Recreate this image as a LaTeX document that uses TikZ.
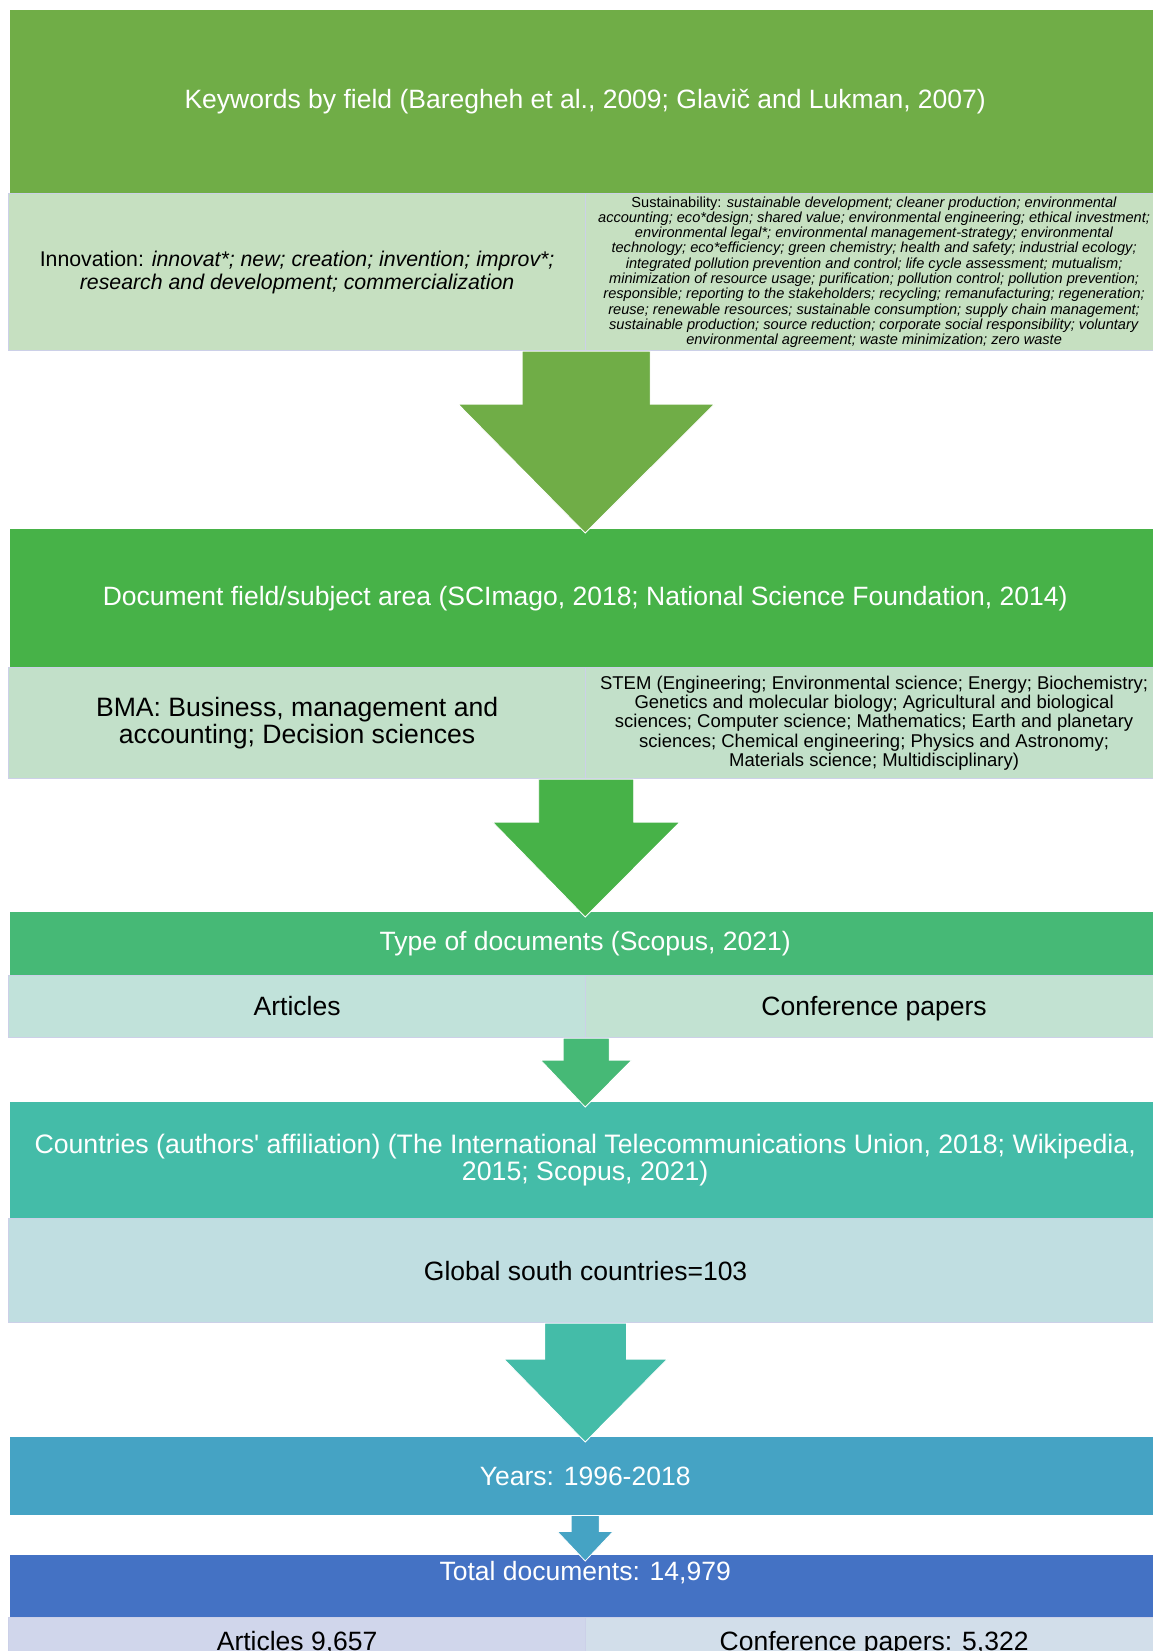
\documentclass[tikz,border=0pt]{standalone}
\usepackage{fontspec}
\setmainfont{Liberation Sans}
\usetikzlibrary{calc}
\definecolor{kw_green}{RGB}{112,173,71}
\definecolor{kw_cell}{RGB}{198,224,193}
\definecolor{field_green}{RGB}{71,178,72}
\definecolor{field_cell}{RGB}{194,224,201}
\definecolor{type_green}{RGB}{70,185,118}
\definecolor{type_cell_l}{RGB}{193,226,218}
\definecolor{type_cell_r}{RGB}{194,226,210}
\definecolor{ctry_teal}{RGB}{68,188,168}
\definecolor{ctry_cell}{RGB}{192,222,225}
\definecolor{year_blue}{RGB}{69,163,196}
\definecolor{total_blue}{RGB}{68,114,196}
\definecolor{total_cell_l}{RGB}{208,214,235}
\definecolor{total_cell_r}{RGB}{210,222,234}
\definecolor{cell_edge}{RGB}{204,208,232}

\begin{document}
\begin{tikzpicture}[x=1pt,y=-1pt]
    \tikzstyle{head}=[rectangle, inner sep=0pt, anchor=north west, minimum width=1150, text=white, align=center, font=\fontsize{26.5}{28}\selectfont]
    \tikzstyle{cell}=[rectangle, inner sep=0pt, anchor=north west, minimum width=577, draw=cell_edge, line width=1.2pt, text=black, align=center, font=\fontsize{26.5}{28}\selectfont]
    \tikzstyle{flow}=[draw=white, line width=0.8pt]

    \useasboundingbox (0,0) rectangle (1153,1651);

    \node[head, fill=kw_green, minimum height=183] (kw) at (10,10) {Keywords by field (Baregheh et al., 2009; Glavič and Lukman, 2007)};
    \node[cell, fill=kw_cell, minimum height=157, font=\fontsize{21.3}{23}\selectfont] (inno) at (8,193)
        {Innovation: \textit{innovat*; new; creation; invention; improv*;}\\ \textit{research and development; commercialization}};
    \node[cell, fill=kw_cell, minimum height=157, font=\fontsize{14.6}{15.3}\selectfont] (sust) at (585,193)
        {Sustainability: \textit{sustainable development; cleaner production; environmental}\\
         \textit{accounting; eco*design; shared value; environmental engineering; ethical investment;}\\
         \textit{environmental legal*; environmental management-strategy; environmental}\\
         \textit{technology; eco*efficiency; green chemistry; health and safety; industrial ecology;}\\
         \textit{integrated pollution prevention and control; life cycle assessment; mutualism;}\\
         \textit{minimization of resource usage; purification; pollution control; pollution prevention;}\\
         \textit{responsible; reporting to the stakeholders; recycling; remanufacturing; regeneration;}\\
         \textit{reuse; renewable resources; sustainable consumption; supply chain management;}\\
         \textit{sustainable production; source reduction; corporate social responsibility; voluntary}\\
         \textit{environmental agreement; waste minimization; zero waste}};

    \node[head, fill=field_green, minimum height=138] (field) at (10,529) {Document field/subject area (SCImago, 2018; National Science Foundation, 2014)};
    \node[cell, fill=field_cell, minimum height=111, font=\fontsize{26.6}{27}\selectfont] (bma) at (8,667)
        {BMA: Business, management and\\ accounting; Decision sciences};
    \node[cell, fill=field_cell, minimum height=111, font=\fontsize{18.5}{19.3}\selectfont] (stem) at (585,667)
        {STEM (Engineering; Environmental science; Energy; Biochemistry;\\
         Genetics and molecular biology; Agricultural and biological\\
         sciences; Computer science; Mathematics; Earth and planetary\\
         sciences; Chemical engineering; Physics and Astronomy;\\
         Materials science; Multidisciplinary)};

    \node[head, fill=type_green, minimum height=63] (type) at (10,912) {Type of documents (Scopus, 2021)};
    \node[cell, fill=type_cell_l, minimum height=62, text height=40, text depth=22] (art) at (8,975) {Articles};
    \node[cell, fill=type_cell_r, minimum height=62, text height=40, text depth=22] (conf) at (585,975) {Conference papers};

    \node[head, fill=ctry_teal, minimum height=116, font=\fontsize{26.7}{26.5}\selectfont] (ctry) at (10,1102)
        {Countries (authors\textquotesingle{} affiliation) (The International Telecommunications Union, 2018; Wikipedia,\\ 2015; Scopus, 2021)};
    \node[cell, fill=ctry_cell, minimum width=1154, minimum height=104] (south) at (8,1218) {Global south countries=103};

    \node[head, fill=year_blue, minimum height=78] (year) at (10,1437) {Years: 1996-2018};
    \node[head, fill=total_blue, minimum height=62, text height=25, text depth=37] (total) at (10,1555) {Total documents: 14,979};
    \node[cell, fill=total_cell_l, minimum height=70, text height=33, text depth=37] (tart) at (8,1617) {Articles 9,657};
    \node[cell, fill=total_cell_r, minimum height=70, text height=33, text depth=37] (tconf) at (585,1617) {Conference papers: 5,322};

    \path[flow, fill=kw_green] (inno.south east) ++(-64,0) -- ++(128,0) -- ++(0,53) -- ++(64,0)
        -- ($(field.north)+(0,4)$) -- ($(inno.south east)+(-128,53)$) -- ++(64,0) -- cycle;
    \path[flow, fill=field_green] (bma.south east) ++(-47.5,0) -- ++(95,0) -- ++(0,43) -- ++(46,0)
        -- ($(type.north)+(0,5)$) -- ($(bma.south east)+(-93.5,43)$) -- ++(46,0) -- cycle;
    \path[flow, fill=type_green] (art.south east) ++(-23,0) -- ++(46,0) -- ++(0,22) -- ++(22.5,0)
        -- ($(ctry.north)+(0,5)$) -- ($(art.south east)+(-45.5,22)$) -- ++(22.5,0) -- cycle;
    \path[flow, fill=ctry_teal] (south.south) ++(-41,0) -- ++(82,0) -- ++(0,36) -- ++(40.5,0)
        -- ($(year.north)+(0,5)$) -- ($(south.south)+(-81.5,36)$) -- ++(40.5,0) -- cycle;
    \path[flow, fill=year_blue] (year.south) ++(-14,0) -- ++(28,0) -- ++(0,16) -- ++(14,0)
        -- ($(total.north)+(0,6)$) -- ($(year.south)+(-28,16)$) -- ++(14,0) -- cycle;
\end{tikzpicture}
\end{document}
